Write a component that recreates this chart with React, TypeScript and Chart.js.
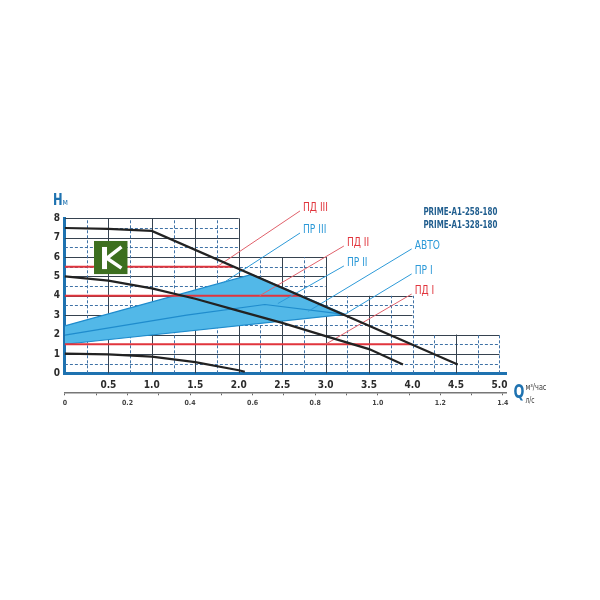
import React, { useEffect, useRef } from 'react';
import { Chart, registerables } from 'chart.js';
Chart.register(...registerables);

// Pump curves: Q (m³/h) vs H (m)
const curve3Q = [0, 0.5, 1.0, 4.52];
const curve3H = [7.5, 7.45, 7.35, 0.45];
const curve2Q = [0, 0.5, 1.0, 1.5, 2.0, 2.5, 3.0, 3.5, 3.89];
const curve2H = [5.0, 4.78, 4.38, 3.85, 3.22, 2.6, 1.92, 1.25, 0.46];
const curve1Q = [0, 0.5, 1.0, 1.5, 2.0, 2.07];
const curve1H = [1.02, 0.98, 0.86, 0.58, 0.16, 0.08];

// Constant pressure (ПД) levels
const pdLevels = [5.5, 4.0, 1.5];
const pdEndQ = [1.93, 2.72, 3.99];

// Proportional pressure (ПР) / AUTO zone
const autoTopQ = [0, 2.15, 3.22];
const autoTopH = [2.45, 5.1, 3.04];
const pr2Q = [0, 1.4, 2.3, 3.22];
const pr2H = [1.97, 3.0, 3.55, 3.04];
const pr1Q = [0, 3.22];
const pr1H = [1.5, 3.04];

// Leader labels
const leaderLabels = ['ПД III', 'ПР III', 'ПД II', 'ПР II', 'АВТО', 'ПР I', 'ПД I'];
const leaderKinds = ['pd', 'pr', 'pd', 'pr', 'pr', 'pr', 'pd'];
const leaderStartQ = [2.705, 2.705, 3.21, 3.21, 3.99, 3.99, 3.99];
const leaderStartH = [8.38, 7.24, 6.57, 5.54, 6.42, 5.13, 4.09];
const leaderEndQ = [1.75, 1.82, 2.24, 2.45, 2.8, 3.22, 3.0];
const leaderEndH = [5.5, 4.66, 4.0, 3.6, 3.2, 3.04, 1.5];

const modelNames = ['PRIME-A1-258-180', 'PRIME-A1-328-180'];

// Axes
const qMax = 5.08;
const hMax = 8;
const qTicks = [0.5, 1.0, 1.5, 2.0, 2.5, 3.0, 3.5, 4.0, 4.5, 5.0];
const lsLabels = ['0', '0.2', '0.4', '0.6', '0.8', '1.0', '1.2', '1.4'];
const m3hPerLs = 3.6;

// Stepped grid outline
const stairH = [8, 6, 4, 2];
const stairQ = [2, 3, 4, 5];
const solidQ = [0.5, 1, 1.5, 2, 2.5, 3, 3.5, 4.5];

const FAMILY = "'DejaVu Sans Condensed', 'DejaVu Sans', sans-serif";
const RED = '#e1353d';
const RED_LEADER = '#e0616b';
const BLUE = '#2d9ad8';
const AXIS_BLUE = '#1e72b0';
const SQUEEZE = 0.8;

const f = (size: number, bold = false) => `${bold ? 'bold ' : ''}condensed ${size}px ${FAMILY}`;

const pts = (qs: number[], hs: number[]) => qs.map((q, i) => ({ x: q, y: hs[i] }));

function qLimitFor(h: number) {
  let idx = 0;
  for (let i = 0; i < stairH.length; i++) if (stairH[i] >= h - 1e-9) idx = i;
  return stairQ[idx];
}
function hLimitFor(q: number) {
  for (let i = 0; i < stairQ.length; i++) if (stairQ[i] >= q - 1e-9) return stairH[i];
  return 0;
}

function narrowText(ctx: any, text: string, x: number, y: number, k = SQUEEZE) {
  const w = ctx.measureText(text).width;
  ctx.fillText(text, x, y, w * k);
}

const gridPlugin = {
  id: 'stairGrid',
  beforeDatasetsDraw(chart: any) {
    const { ctx } = chart;
    const x = chart.scales.x;
    const y = chart.scales.y;
    ctx.save();
    ctx.lineWidth = 1;
    for (let k = 1; k <= hMax * 2; k++) {
      const h = k * 0.5;
      const solid = k % 2 === 0;
      ctx.setLineDash(solid ? [] : [3, 2]);
      ctx.strokeStyle = solid ? '#36424f' : '#3f72a6';
      const py = Math.round(y.getPixelForValue(h)) + 0.5;
      ctx.beginPath();
      ctx.moveTo(x.getPixelForValue(0), py);
      ctx.lineTo(x.getPixelForValue(qLimitFor(h)), py);
      ctx.stroke();
    }
    for (let k = 1; k <= 20; k++) {
      const q = k * 0.25;
      const solid = solidQ.some((s) => Math.abs(s - q) < 1e-6);
      ctx.setLineDash(solid ? [] : [3, 2]);
      ctx.strokeStyle = solid ? '#36424f' : '#3f72a6';
      const px = Math.round(x.getPixelForValue(q)) + 0.5;
      ctx.beginPath();
      ctx.moveTo(px, y.getPixelForValue(0));
      ctx.lineTo(px, y.getPixelForValue(hLimitFor(q)));
      ctx.stroke();
    }
    ctx.restore();
  },
};

const textPlugin = {
  id: 'texts',
  afterDatasetsDraw(chart: any) {
    const { ctx, chartArea } = chart;
    const x = chart.scales.x;
    const y = chart.scales.y;
    ctx.save();
    // leader labels
    ctx.font = f(13);
    ctx.textBaseline = 'middle';
    ctx.textAlign = 'left';
    leaderLabels.forEach((lab, i) => {
      ctx.fillStyle = leaderKinds[i] === 'pd' ? RED : BLUE;
      narrowText(ctx, lab, x.getPixelForValue(leaderStartQ[i]) + 3, y.getPixelForValue(leaderStartH[i]) - 3, 0.78);
    });
    // model names
    ctx.font = f(10, true);
    ctx.fillStyle = '#1f5d8e';
    ctx.textBaseline = 'alphabetic';
    modelNames.forEach((m, i) => {
      ctx.fillText(m, chartArea.right - 83, chartArea.top - 3 + i * 13, 74);
    });
    // axis titles
    ctx.fillStyle = AXIS_BLUE;
    ctx.font = f(15, true);
    narrowText(ctx, 'H', chartArea.left - 12, chartArea.top - 13, 0.85);
    ctx.font = f(8);
    ctx.fillText('м', chartArea.left - 2.5, chartArea.top - 13);
    ctx.font = f(19, true);
    narrowText(ctx, 'Q', chartArea.right + 7, chartArea.bottom + 25, 0.75);
    ctx.fillStyle = '#3a3a3a';
    ctx.font = f(8);
    ctx.fillText('м³/час', chartArea.right + 19, chartArea.bottom + 17, 21);
    ctx.fillText('л/с', chartArea.right + 19, chartArea.bottom + 30, 9);
    // logo
    const bx = x.getPixelForValue(0.335);
    const by = y.getPixelForValue(6.83);
    const bw = x.getPixelForValue(0.72) - bx;
    const bh = y.getPixelForValue(5.12) - by;
    ctx.fillStyle = '#3d6f1f';
    ctx.fillRect(bx, by, bw, bh);
    ctx.fillStyle = '#ffffff';
    ctx.fillRect(bx + 8, by + 6, 5, bh - 11);
    ctx.strokeStyle = '#ffffff';
    ctx.lineWidth = 3.5;
    ctx.lineCap = 'butt';
    ctx.beginPath();
    ctx.moveTo(bx + 13, by + bh * 0.52);
    ctx.lineTo(bx + bw - 6, by + 6);
    ctx.moveTo(bx + 13, by + bh * 0.52);
    ctx.lineTo(bx + bw - 6, by + bh - 6);
    ctx.stroke();
    ctx.restore();
  },
};

export default function App() {
  const ref = useRef<HTMLCanvasElement | null>(null);
  useEffect(() => {
    if (!ref.current) return;
    const line = (data: any[], color: string, width: number, order: number, extra: any = {}) => ({
      data,
      borderColor: color,
      borderWidth: width,
      pointRadius: 0,
      fill: false,
      tension: 0,
      clip: false,
      order,
      ...extra,
    });
    const datasets: any[] = [];
    datasets.push(line(pts(autoTopQ, autoTopH), '#1f8ccd', 1.2, 20, { fill: '+1', backgroundColor: '#52b8e8' }));
    datasets.push(line(pts(pr1Q, pr1H), '#1f8ccd', 1.2, 19));
    datasets.push(line(pts(pr2Q, pr2H), '#1f8ccd', 1.2, 18));
    pdLevels.forEach((lvl, i) => {
      datasets.push(line([{ x: 0, y: lvl }, { x: pdEndQ[i], y: lvl }], RED, 2, 15));
    });
    leaderLabels.forEach((_, i) => {
      datasets.push(
        line(
          [
            { x: leaderStartQ[i], y: leaderStartH[i] },
            { x: leaderEndQ[i], y: leaderEndH[i] },
          ],
          leaderKinds[i] === 'pd' ? RED_LEADER : BLUE,
          1,
          12
        )
      );
    });
    datasets.push(line(pts(curve3Q, curve3H), '#222222', 2.2, 5));
    datasets.push(line(pts(curve2Q, curve2H), '#222222', 2.2, 5));
    datasets.push(line(pts(curve1Q, curve1H), '#222222', 2.2, 5));

    const tickFont = { family: FAMILY, size: 10, weight: 'bold condensed' };
    const chart = new Chart(ref.current, {
      type: 'line',
      data: { datasets },
      plugins: [gridPlugin, textPlugin],
      options: {
        animation: false,
        responsive: true,
        maintainAspectRatio: false,
        events: [],
        layout: { padding: { left: 0, top: 218.3, right: 93.6, bottom: 187.7 } },
        plugins: { legend: { display: false }, tooltip: { enabled: false } },
        scales: {
          x: {
            type: 'linear',
            position: 'bottom',
            min: 0,
            max: qMax,
            weight: 0,
            afterFit: (s: any) => {
              s.height = 19;
            },
            afterBuildTicks: (s: any) => {
              s.ticks = qTicks.map((v) => ({ value: v }));
            },
            ticks: {
              autoSkip: false,
              maxRotation: 0,
              padding: 6.5,
              color: '#2b2b2b',
              font: tickFont,
              callback: (v: any) => Number(v).toFixed(1),
            },
            grid: { display: false, drawTicks: false },
            border: { display: true, color: AXIS_BLUE, width: 3 },
          },
          x2: {
            type: 'linear',
            position: 'bottom',
            min: 0,
            max: qMax / m3hPerLs,
            weight: 1,
            afterFit: (s: any) => {
              s.height = 20;
            },
            afterBuildTicks: (s: any) => {
              const out: any[] = [];
              for (let k = 0; k <= 14; k++) out.push({ value: k / 10 });
              s.ticks = out;
            },
            ticks: {
              autoSkip: false,
              maxRotation: 0,
              padding: 3.5,
              color: '#444',
              font: { family: FAMILY, size: 7, weight: 'bold condensed' },
              callback: (v: any) => {
                const k = Math.round(Number(v) * 10);
                return k % 2 === 0 ? lsLabels[k / 2] : '';
              },
            },
            grid: { display: true, drawOnChartArea: false, drawTicks: true, tickLength: 3, color: '#666', lineWidth: 1 },
            border: { display: true, color: '#777', width: 1.5 },
          },
          y: {
            type: 'linear',
            min: 0,
            max: hMax,
            afterFit: (s: any) => {
              s.width = 64.9;
            },
            ticks: { stepSize: 1, padding: 5, color: '#2b2b2b', font: tickFont },
            grid: { display: false, drawTicks: false },
            border: { display: true, color: AXIS_BLUE, width: 3 },
          },
        },
      } as any,
    });
    return () => chart.destroy();
  }, []);
  return (
    <div style={{ position: 'absolute', left: 0, top: 0, width: 600, height: 600, background: '#fff' }}>
      <canvas ref={ref} />
    </div>
  );
}
